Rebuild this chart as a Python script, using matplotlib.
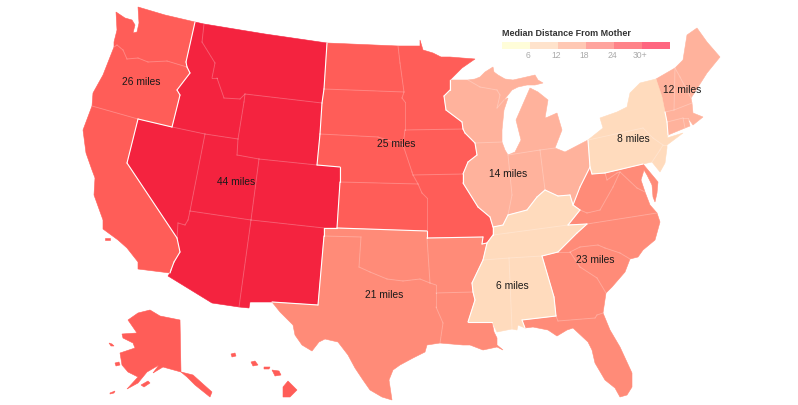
import matplotlib
matplotlib.use('Agg')
import matplotlib.pyplot as plt
from matplotlib.patches import Polygon, Rectangle
from collections import Counter

plt.rcParams['font.family'] = ['Liberation Sans', 'DejaVu Sans']

# state outlines, traced in picture pixels
WA = [(116,12),(125,18),(132,20),(135,25),(133,33),(137,32),(139,23),(138,7),(165,15),(195,22),(186,62),(187,67),(167,61),(148,62),(138,58),(127,59),(123,50),(117,45),(114,47),(114,42),(117,30)]
OR = [(114,47),(117,45),(123,50),(127,59),(138,58),(148,62),(167,61),(187,67),(190,73),(177,90),(180,95),(172,127),(138,119),(92,106),(93,93),(103,75)]
CA = [(92,106),(138,119),(127,163),(177,238),(180,252),(174,262),(171,270),(170,273),(138,269),(138,262),(127,248),(118,240),(103,229),(103,220),(94,195),(95,178),(92,170),(86,153),(83,130)]
NV = [(138,119),(172,127),(205,134),(190,211),(188,220),(185,225),(178,223),(177,238),(127,163)]
ID = [(195,22),(204,24),(202,42),(215,63),(212,78),(217,78),(224,98),(240,99),(245,94),(244,102),(238,139),(205,134),(172,127),(180,95),(177,90),(190,73),(187,67),(186,62)]
MT = [(204,24),(265,34),(327,43),(324,89),(322,103),(245,94),(240,99),(224,98),(217,78),(212,78),(215,63),(202,42)]
WY = [(245,94),(322,103),(320,134),(317,165),(259,159),(237,155),(238,139),(244,102)]
UT = [(205,134),(238,139),(237,155),(259,159),(251,220),(190,211)]
CO = [(259,159),(317,165),(340,167),(340,182),(337,228),(324,228),(251,220)]
AZ = [(190,211),(251,220),(239,307),(212,303),(168,276),(170,273),(171,270),(174,262),(180,252),(177,238),(178,223),(185,225),(188,220)]
NM = [(251,220),(324,228),(324,236),(318,305),(272,302),(250,302),(249,308),(239,307)]

ND = [(327,43),(398,46),(400,63),(404,92),(324,89)]
SD = [(324,89),(404,92),(402,98),(405,102),(405,130),(403,145),(378,137),(320,134),(322,103)]
NE = [(320,134),(378,137),(403,145),(412,172),(413,175),(418,184),(340,182),(340,167),(317,165)]
KS = [(340,182),(418,184),(422,193),(427,198),(427,231),(337,228)]
MN = [(398,46),(420,46),(420,40),(423,50),(433,53),(441,57),(450,57),(462,58),(475,59),(462,68),(450,80),(450,90),(444,96),(446,110),(462,122),(463,129),(405,130),(405,102),(402,98),(404,92),(400,63)]
IA = [(405,130),(463,129),(465,133),(475,143),(477,155),(468,162),(463,174),(413,175),(412,172),(403,145)]
MO = [(413,175),(463,174),(463,183),(478,207),(490,217),(493,227),(493,235),(487,243),(482,244),(483,237),(427,238),(427,231),(427,198),(422,193),(418,184)]

TX = [(324,236),(361,237),(359,267),(370,272),(387,279),(403,281),(420,279),(430,283),(436,285),(436,293),(436,307),(443,323),(440,343),(427,345),(425,352),(413,358),(400,365),(393,370),(389,380),(392,400),(382,397),(370,390),(363,380),(355,368),(348,355),(338,342),(325,339),(319,342),(312,351),(302,345),(295,335),(293,325),(280,312),(272,302),(318,305)]
OK = [(324,228),(337,228),(427,231),(427,238),(430,283),(420,279),(403,281),(387,279),(370,272),(359,267),(361,237),(324,236)]
AR = [(427,238),(483,237),(482,244),(487,243),(483,260),(472,283),(473,292),(436,293),(436,285),(430,283)]
LA = [(436,293),(473,292),(475,300),(468,322),(492,322),(494,332),(497,338),(497,345),(503,350),(497,347),(483,350),(470,345),(463,345),(440,343),(443,323),(436,307)]
GA = [(542,256),(558,252),(570,252),(580,267),(597,278),(606,293),(603,313),(597,315),(595,318),(558,321),(556,316),(554,297)]
FL = [(522,320),(556,316),(558,321),(595,318),(597,315),(603,313),(610,330),(620,347),(632,373),(632,387),(627,395),(620,397),(615,388),(605,380),(595,363),(592,350),(588,342),(573,328),(567,330),(557,336),(548,330),(533,327),(525,328)]
SC = [(570,252),(580,247),(598,245),(605,248),(620,253),(630,259),(625,272),(612,287),(606,293),(597,278),(580,267)]
NC = [(587,224),(657,213),(660,222),(655,240),(643,250),(638,257),(630,259),(620,253),(605,248),(598,245),(580,247),(570,252),(558,252),(577,233)]
VA = [(568,225),(580,210),(587,213),(600,210),(613,187),(620,172),(637,188),(645,192),(650,205),(657,213),(587,224)]
WV = [(573,205),(580,187),(590,167),(592,174),(605,173),(607,180),(617,173),(620,172),(613,187),(600,210),(587,213),(580,210)]
MD = [(605,173),(643,164),(648,170),(658,182),(657,193),(655,202),(653,197),(652,185),(647,175),(644,170),(641,180),(645,192),(637,188),(620,172),(617,173),(607,180)]

WI = [(450,80),(468,80),(480,87),(497,90),(500,95),(497,108),(504,100),(508,98),(504,110),(502,130),(502,142),(475,143),(465,133),(463,129),(462,122),(446,110),(444,96),(450,90)]
MI_UP = [(468,80),(475,79),(480,77),(485,72),(493,67),(494,72),(498,75),(505,79),(513,80),(522,78),(535,75),(538,80),(543,83),(535,85),(527,85),(518,87),(512,90),(504,100),(497,108),(500,95),(497,90),(480,87)]
MI = [(530,88),(538,92),(548,100),(545,118),(548,117),(557,113),(562,130),(555,148),(540,150),(508,155),(515,152),(521,140),(516,120)]
IL = [(475,143),(502,142),(505,150),(508,155),(512,195),(508,215),(503,225),(493,227),(490,217),(478,207),(463,183),(463,174),(468,162),(477,155)]
IN = [(508,155),(540,150),(545,190),(537,197),(527,210),(508,215),(512,195)]
OH = [(540,150),(555,148),(565,152),(588,140),(590,167),(580,187),(573,205),(570,195),(558,196),(545,190)]
ME = [(675,68),(683,60),(687,35),(697,28),(707,42),(720,57),(707,73),(693,95),(691,98),(680,77)]
NH = [(675,68),(680,77),(691,98),(692,103),(674,110)]
VT = [(656,79),(675,68),(674,110),(665,112)]
MA = [(665,112),(674,110),(692,103),(693,113),(703,117),(693,125),(688,118),(683,118),(667,122)]
CT = [(667,122),(683,118),(685,128),(668,135)]
RI = [(683,118),(688,118),(690,126),(685,128)]

NY = [(588,140),(603,128),(600,118),(617,112),(627,107),(630,93),(640,83),(656,79),(662,97),(665,112),(667,122),(668,135),(667,138),(683,133),(667,145),(663,145),(653,138),(643,128)]
PA = [(588,140),(643,128),(653,138),(663,145),(660,150),(652,162),(643,164),(605,173),(592,174),(590,167)]
NJ = [(663,145),(667,145),(667,148),(665,163),(660,172),(652,162),(660,150)]
KY = [(493,227),(503,225),(508,215),(527,210),(537,197),(545,190),(558,196),(570,195),(573,205),(580,210),(568,225),(508,233),(493,235)]
TN = [(493,235),(508,233),(568,225),(587,224),(577,233),(558,252),(542,256),(509,258),(483,260),(487,243)]
MS = [(483,260),(509,258),(512,329),(497,332),(492,322),(468,322),(475,300),(473,292),(472,283)]
AL = [(509,258),(542,256),(554,297),(556,316),(522,320),(525,328),(518,325),(517,330),(512,329)]

AK = [(180,320),(181,372),(163,367),(153,373),(159,365),(147,372),(138,383),(127,389),(138,377),(128,372),(122,365),(120,353),(135,348),(133,343),(123,338),(122,334),(137,333),(128,320),(138,313),(150,310),(160,316)]
AK_PAN = [(181,372),(193,375),(203,384),(212,392),(210,397),(195,385),(187,377)]
AK_ISLE1 = [(141,385),(148,381),(150,383),(144,387)]
AK_ISLE2 = [(110,393),(115,391),(114,393),(110,394)]
AK_ISLE3 = [(115,363),(119,362),(120,365),(116,366)]
AK_ISLE4 = [(109,343),(112,344),(114,346),(111,346)]
CA_ISLES = [(105,238),(110,238),(110,240),(105,240)]
HI_BIG = [(283,387),(288,381),(297,390),(290,397),(283,397)]
HI_MAUI = [(272,370),(279,371),(281,375),(275,376)]
HI_OAHU = [(251,362),(255,361),(258,365),(253,366)]
HI_KAUAI = [(231,354),(235,353),(236,356),(232,357)]
HI_MOLOKAI = [(264,367),(270,367),(269,369),(264,369)]

west = [MT, ID, WY, NV, UT, CO, AZ, NM]
northern = [WA, OR, CA, ND, SD, NE, KS, MN, IA, MO, AK, AK_PAN, AK_ISLE1, AK_ISLE2, AK_ISLE3, AK_ISLE4,
            CA_ISLES, HI_BIG, HI_MAUI, HI_OAHU, HI_KAUAI, HI_MOLOKAI]
south = [TX, OK, AR, LA, GA, FL, SC, NC, VA, WV, MD]
midwest = [WI, MI_UP, MI, IL, IN, OH, ME, NH, VT, MA, CT, RI]
near = [NY, PA, NJ, KY, TN, MS, AL]

regions = [west, northern, south, midwest, near]
region_colors = ['#F4233F', '#FF5D58', '#FF8B78', '#FFB29C', '#FFDBBD']

labels = ['26 miles', '44 miles', '25 miles', '14 miles', '8 miles', '12 miles', '23 miles', '6 miles', '21 miles']
label_x = [141, 236, 396, 508, 633, 682, 595, 512, 384]
label_y = [82, 182, 144, 174, 139, 90, 260, 286, 295]

legend_title = 'Median Distance From Mother'
legend_colors = ['#FFFDD9', '#FFE3CC', '#FFC8B4', '#FFA49E', '#FF8389', '#FF6680']
legend_ticks = ['6', '12', '18', '24', '30+']

fig = plt.figure(figsize=(7.98, 4.05), dpi=100)
ax = fig.add_axes([0, 0, 1, 1])
ax.set_xlim(0, 798)
ax.set_ylim(405, 0)
ax.axis('off')


def segments(shape):
    pts = list(shape)
    return [tuple(sorted((pts[i], pts[(i + 1) % len(pts)]))) for i in range(len(pts))]


# fill first, so the seams between states of a region are closed
for group, color in zip(regions, region_colors):
    for shape in group:
        ax.add_patch(Polygon(shape, closed=True, facecolor=color, edgecolor=color, lw=0.4))

# faint border inside a region, solid white between regions
seen = Counter()
for group in regions:
    group_segs = Counter()
    for shape in group:
        group_segs.update(segments(shape))
    for seg, n in group_segs.items():
        if n > 1:
            ax.plot([seg[0][0], seg[1][0]], [seg[0][1], seg[1][1]], color='white', alpha=0.22, lw=0.7)
    seen.update(group_segs.keys())
for seg, n in seen.items():
    if n > 1:
        ax.plot([seg[0][0], seg[1][0]], [seg[0][1], seg[1][1]], color='white', lw=0.8, solid_capstyle='round')

for text, x, y in zip(labels, label_x, label_y):
    ax.text(x, y, text, fontsize=7.4, color='#1a1a1a', ha='center', va='center')

# legend
ax.text(502, 33, legend_title, fontsize=6.5, fontweight='bold', color='#333333', ha='left', va='center')
for i, color in enumerate(legend_colors):
    ax.add_patch(Rectangle((502 + i * 28, 42), 27.5, 7, facecolor=color, edgecolor='none'))
for i, tick in enumerate(legend_ticks):
    ax.text(502 + (i + 1) * 28 - 2, 56, tick, fontsize=6.2, color='#aaaaaa', ha='center', va='center')

fig.savefig('out.png', dpi=100)
